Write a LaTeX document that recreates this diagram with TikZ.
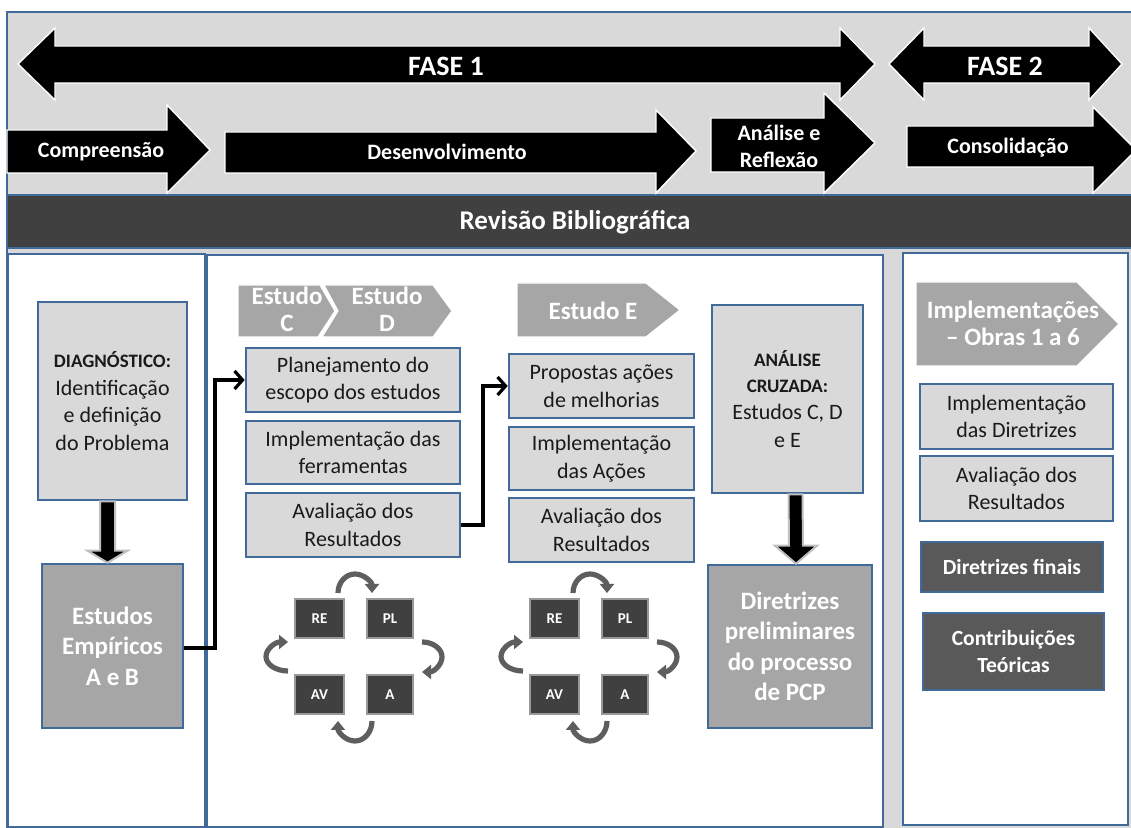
\documentclass[tikz,border=0pt]{standalone}
\usepackage{fontspec}
\setmainfont{Carlito}
\usetikzlibrary{arrows.meta,calc}
\definecolor{bandgrey}{HTML}{D9D9D9}
\definecolor{darkband}{HTML}{404040}
\definecolor{boxblue}{HTML}{41699A}
\definecolor{midgrey}{HTML}{A6A6A6}
\definecolor{darkbox}{HTML}{595959}
\definecolor{cycgrey}{HTML}{5E5E5E}
\definecolor{txt}{HTML}{1A1A1A}
\newcommand{\rbox}[6]{\node[#6, minimum width={(#4-#2)*0.5pt}, minimum height={(#5-#3)*0.5pt}] (#1) at ({(#2+#4)/2},{-(#3+#5)/2})}
\tikzset{
  lightbox/.style={draw=boxblue, line width=1.3pt, fill=bandgrey, align=center, inner sep=1pt, text=txt,
    font=\fontsize{11}{13.8}\selectfont},
  midbox/.style={draw=boxblue, line width=1.3pt, fill=midgrey, align=center, inner sep=1pt, text=white,
    font=\fontsize{12.5}{15.2}\selectfont\bfseries},
  darkbx/.style={draw=boxblue, line width=1.3pt, fill=darkbox, align=center, inner sep=1pt, text=white,
    font=\fontsize{10.8}{13.8}\selectfont\bfseries},
  cycbox/.style={draw=gray!80, line width=0.8pt, fill=darkband, align=center, inner sep=0pt, text=white,
    font=\fontsize{7.5}{9}\selectfont\bfseries},
  blackarrow/.style={fill=black, draw=white, line width=0.7pt},
  toplabel/.style={text=white, font=\fontsize{14}{15}\selectfont\bfseries, align=center},
  rowlabel/.style={text=white, font=\fontsize{11}{13.5}\selectfont\bfseries, align=center},
  chev/.style={fill=midgrey, draw=white, line width=0.6pt},
  chevlabel/.style={text=white, font=\fontsize{12.5}{13.5}\selectfont\bfseries, align=center},
  panel/.style={fill=white, draw=boxblue, line width=0.8pt},
  conn/.style={draw=black, line width=1.6pt, -{Straight Barb[length=4pt,width=9pt]}},
  bigdown/.style={fill=black, draw=gray!50, line width=1pt},
  cyc/.style={draw=cycgrey, line width=2.6pt, -{Triangle[length=4.5pt,width=7pt]}},
}
\newcommand{\pdcacycle}[2]{%
  \begin{scope}[xshift=#1*0.5pt]
  \rbox{#2re}{295}{599}{344}{638}{cycbox}{RE};
  \rbox{#2pl}{367}{599}{413}{638}{cycbox}{PL};
  \rbox{#2av}{295}{675}{344}{714}{cycbox}{AV};
  \rbox{#2a}{367}{675}{413}{714}{cycbox}{A};
  \draw[cyc] (338,-593) arc[start angle=180, end angle=0, x radius=17, y radius=19];
  \draw[cyc] (422,-642) arc[start angle=90, end angle=-90, x radius=20, y radius=15];
  \draw[cyc] (372,-721) arc[start angle=0, end angle=-180, x radius=17, y radius=20];
  \draw[cyc] (288,-671) arc[start angle=-90, end angle=-270, x radius=22, y radius=14.5];
  \end{scope}}
\begin{document}
\begin{tikzpicture}[x=0.5pt,y=0.5pt]
\useasboundingbox (0,0) rectangle (1131,-828);
% backgrounds
\fill[white] (0,0) rectangle (1131,-828);
\draw[fill=bandgrey, draw=boxblue, line width=1pt] (7,-12) rectangle (1140,-835);
\draw[fill=darkband, draw=boxblue, line width=0.8pt] (7,-195) rectangle (1140,-248);
\node[text=white, font=\fontsize{13.5}{15}\selectfont\bfseries] (rev) at (575,-222) {Revisão Bibliográfica};
% panels
\draw[panel] (8,-254) rectangle (205,-827);
\draw[panel] (207,-255) rectangle (883,-827);
\draw[panel] (903,-253) rectangle (1128,-825);
% phase arrows
\draw[blackarrow] (18,-64) -- (55,-28) -- (55,-46) -- (840,-46) -- (840,-28) -- (875,-64) -- (840,-100) -- (840,-83) -- (55,-83) -- (55,-100) -- cycle;
\node[toplabel] (f1) at (446,-66) {FASE 1};
\draw[blackarrow] (889,-64) -- (924,-28) -- (924,-46) -- (1089,-46) -- (1089,-28) -- (1122,-64) -- (1089,-100) -- (1089,-83) -- (924,-83) -- (924,-100) -- cycle;
\node[toplabel] (f2) at (1005,-66) {FASE 2};
\draw[blackarrow] (7,-130) -- (167,-130) -- (167,-105) -- (210,-150) -- (167,-193) -- (167,-173) -- (7,-173) -- cycle;
\node[rowlabel] (comp) at (101,-152) {Compreensão};
\draw[blackarrow] (225,-132) -- (656,-132) -- (656,-110) -- (696,-151) -- (656,-193) -- (656,-173) -- (225,-173) -- cycle;
\node[rowlabel] (desen) at (447,-152) {Desenvolvimento};
\draw[blackarrow] (711,-118) -- (824,-118) -- (824,-93) -- (875,-143) -- (824,-193) -- (824,-172) -- (711,-172) -- cycle;
\node[rowlabel] (anref) at (779,-146) {Análise e\\Reflexão};
\draw[blackarrow] (907,-126) -- (1093,-126) -- (1093,-107) -- (1136,-150) -- (1093,-193) -- (1093,-167) -- (907,-167) -- cycle;
\node[rowlabel] (consol) at (1008,-148) {Consolidação};
% left panel
\rbox{diag}{38}{302}{187}{500}{lightbox}{{\fontsize{9.5}{13}\selectfont\bfseries DIAGNÓSTICO:}\\Identificação\\e definição\\do Problema};
\rbox{ee}{42}{564}{183}{728}{midbox}{Estudos\\Empíricos\\A e B};
\filldraw[bigdown] ($(diag.south)+(-12.5,0)$) -- ($(ee.north)+(-12.5,12)$) -- ($(ee.north)+(-25,12)$) -- ($(ee.north)+(-5,0)$) -- ($(ee.north)+(15,12)$) -- ($(ee.north)+(2.5,12)$) -- ($(diag.south)+(2.5,0)$) -- cycle;
% middle: studies C and D
\draw[chev] (238,-285) -- (320,-285) -- (335,-311) -- (318,-337) -- (238,-337) -- cycle;
\draw[chev] (324,-285) -- (433,-285) -- (452,-311) -- (433,-337) -- (322,-337) -- (338,-311) -- cycle;
\node[chevlabel] (estc) at (287,-309) {Estudo\\C};
\node[chevlabel] (estd) at (387,-309) {Estudo\\D};
\rbox{plan}{246}{348}{460}{412}{lightbox}{Planejamento do\\escopo dos estudos};
\rbox{impl1}{246}{421}{460}{484}{lightbox}{Implementação das\\ferramentas};
\rbox{aval1}{246}{493}{460}{557}{lightbox}{Avaliação dos\\Resultados};
% study E
\draw[chev] (517,-283) -- (646,-283) -- (680,-310) -- (646,-337) -- (517,-337) -- cycle;
\node[chevlabel] (este) at (593,-311) {Estudo E};
\rbox{prop}{509}{354}{694}{418}{lightbox}{Propostas ações\\de melhorias};
\rbox{impl2}{509}{427}{694}{490}{lightbox}{Implementação\\das Ações};
\rbox{aval2}{509}{498}{694}{562}{lightbox}{Avaliação dos\\Resultados};
% cross analysis
\rbox{anal}{712}{305}{863}{493}{lightbox}{{\fontsize{9.5}{12}\selectfont\bfseries ANÁLISE}\\[-1pt]{\fontsize{9.5}{12}\selectfont\bfseries CRUZADA:}\\Estudos C, D\\e E};
\rbox{dirp}{708}{565}{872}{728}{midbox}{Diretrizes\\preliminares\\do processo\\de PCP};
\filldraw[bigdown] ($(anal.south)+(1,0)$) -- ($(dirp.north)+(-1,18)$) -- ($(dirp.north)+(-15,18)$) -- ($(dirp.north)+(6,0)$) -- ($(dirp.north)+(27,18)$) -- ($(dirp.north)+(13,18)$) -- ($(anal.south)+(15,0)$) -- cycle;
% cycles
\pdcacycle{0}{l}
\pdcacycle{235}{r}
% connectors
\coordinate (c1) at (215,-648);
\draw[conn] (ee.east |- c1) -- (c1) |- (plan.west);
\coordinate (c2) at (483,-525);
\draw[conn] (aval1.east |- c2) -- (c2) |- (prop.west);
% right panel
\draw[chev] (916,-282) -- (1077,-282) -- (1119,-324) -- (1077,-366) -- (916,-366) -- cycle;
\node[chevlabel] (implob) at (1013,-323) {Implementações\\– Obras 1 a 6};
\rbox{impl3}{920}{384}{1113}{449}{lightbox}{Implementação\\das Diretrizes};
\rbox{aval3}{920}{456}{1113}{521}{lightbox}{Avaliação dos\\Resultados};
\rbox{dirf}{921}{542}{1103}{592}{darkbx}{Diretrizes finais};
\rbox{contr}{923}{613}{1104}{690}{darkbx}{Contribuições\\Teóricas};
\end{tikzpicture}
\end{document}
